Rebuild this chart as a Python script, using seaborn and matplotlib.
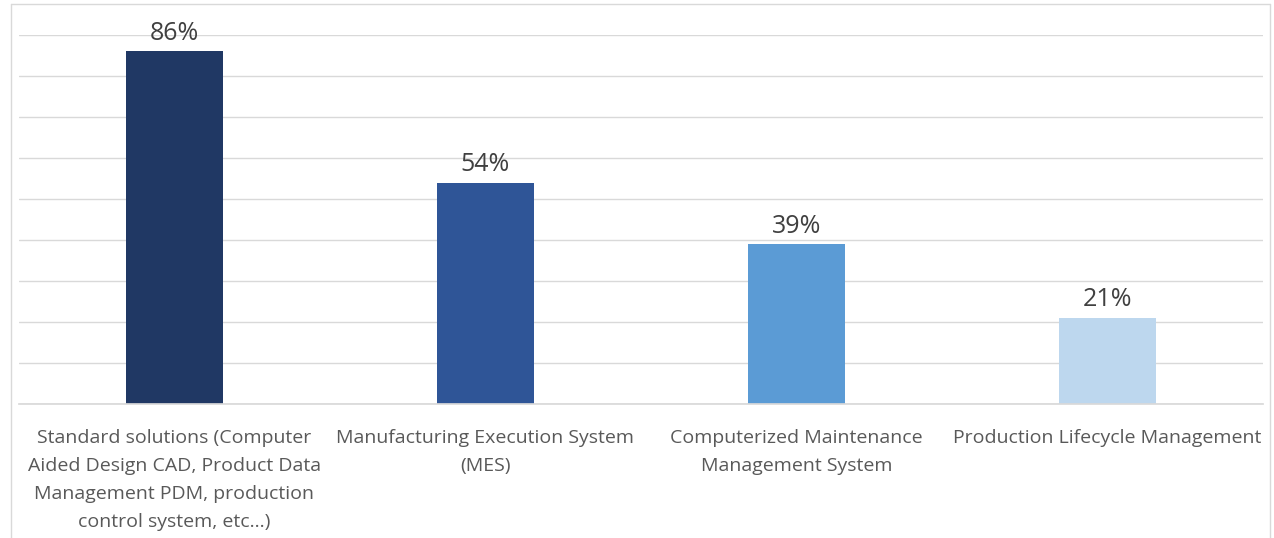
import matplotlib
matplotlib.use('Agg')
import matplotlib.pyplot as plt
import seaborn as sns
import pandas as pd
from matplotlib.lines import Line2D

categories = ['Standard solutions (Computer\nAided Design CAD, Product Data\nManagement PDM, production\ncontrol system, etc...)',
              'Manufacturing Execution System\n(MES)',
              'Computerized Maintenance\nManagement System',
              'Production Lifecycle Management']
values = [86, 54, 39, 21]
colors = ['#203864', '#2F5597', '#5B9BD5', '#BDD7EE']

df = pd.DataFrame({'cat': categories, 'val': values})

sns.set_theme(style='white')
plt.rcParams['font.family'] = ['Open Sans', 'DejaVu Sans']

fig = plt.figure(figsize=(12.74, 5.38), dpi=100)
ax = fig.add_axes([19/1274, (538-404)/538, (1263-19)/1274, (404-35)/538])

sns.barplot(data=df, x='cat', y='val', hue='cat', palette=colors, width=0.31,
            legend=False, saturation=1, linewidth=0, ax=ax)

ax.set_xlim(-0.5, 3.5)
ax.set_ylim(0, 90)
ax.set_yticks(range(0, 91, 10))
ax.yaxis.grid(True, color='#D9D9D9', linewidth=1)
ax.set_axisbelow(True)
ax.set_yticklabels([])
ax.tick_params(axis='y', length=0)
ax.tick_params(axis='x', length=0, pad=18, labelsize=14, labelcolor='#595959')
for lbl in ax.get_xticklabels():
    lbl.set_linespacing(1.72)
ax.set_xlabel('')
ax.set_ylabel('')
for s in ['top', 'right', 'left']:
    ax.spines[s].set_visible(False)
ax.spines['bottom'].set_color('#D9D9D9')

for p, v in zip(ax.patches, values):
    ax.annotate(f'{v}%', (p.get_x() + p.get_width()/2, p.get_height()),
                xytext=(0, 4), textcoords='offset points', ha='center', va='bottom',
                fontsize=18, color='#404040', annotation_clip=False)

# outer light frame
fc = '#D9D9D9'
fig.add_artist(Line2D([11/1274, 1270/1274], [1-4/538, 1-4/538], color=fc, lw=1))
fig.add_artist(Line2D([11/1274, 11/1274], [0, 1-4/538], color=fc, lw=1))
fig.add_artist(Line2D([1270/1274, 1270/1274], [0, 1-4/538], color=fc, lw=1))

fig.savefig('out.png', dpi=100)
